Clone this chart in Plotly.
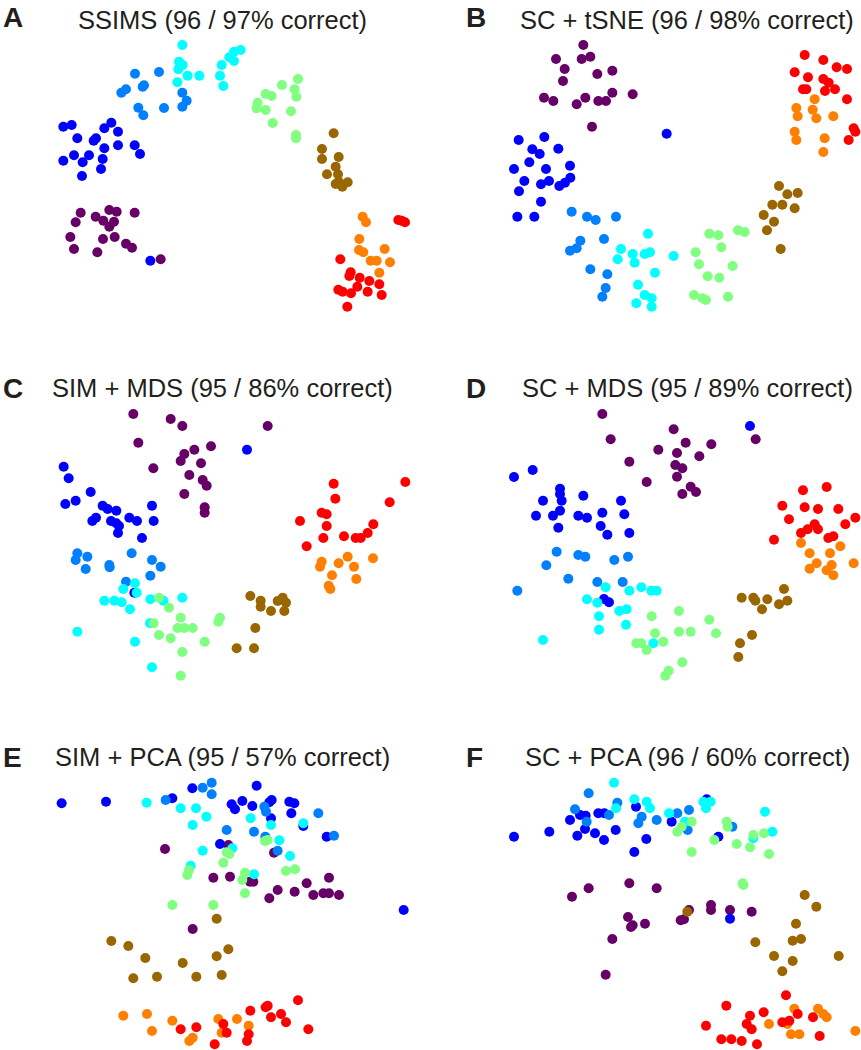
import plotly.graph_objects as go

# Cluster colours
COLORS = {
    "purple": "#660066", "blue": "#0000FF", "medblue": "#0080FF", "cyan": "#00FFFF",
    "green": "#80FF80", "brown": "#996600", "orange": "#FF8000", "red": "#FF0000",
}
ORDER = ["purple", "blue", "medblue", "cyan", "green", "brown", "orange", "red"]

# Embedding coordinates per panel (arbitrary units, y grows downward)
PANEL_A = {
    "cyan": [(547,45),(537,95),(548,105),(535,118),(563,137),(598,137),(532,157),(665,105),(688,82),(702,65),(722,60),(702,93),(660,137),(670,168)],
    "medblue": [(405,131),(477,126),(432,166),(428,170),(378,178),(364,188),(547,188),(560,212),(547,230),(415,233),(430,256),(492,234)],
    "blue": [(190,290),(215,285),(334,278),(313,295),(354,305),(232,325),(288,325),(281,332),(313,355),(354,346),(404,346),(420,372),(222,376),(267,376),(190,392),(248,397),(308,387),(303,417),(246,438),(451,692)],
    "purple": [(242,548),(227,577),(287,560),(328,540),(350,545),(404,548),(310,572),(342,575),(328,590),(211,621),(222,657),(309,627),(344,621),(378,641),(396,653),(292,667),(482,688)],
    "green": [(773,218),(770,235),(797,192),(815,198),(846,165),(894,147),(884,178),(889,200),(797,240),(873,244),(818,279),(888,315),(888,325)],
    "brown": [(1001,310),(966,357),(966,387),(1016,381),(1007,410),(981,433),(1014,433),(1007,462),(1027,470),(1043,457),(1016,455)],
    "orange": [(1088,560),(1098,577),(1078,627),(1077,660),(1090,667),(1154,657),(1112,692),(1130,692),(1170,697),(1138,728)],
    "red": [(1195,570),(1215,577),(1205,572),(1021,688),(1052,727),(1048,738),(1079,743),(1108,753),(1138,763),(1072,770),(1015,779),(1028,785),(1053,790),(1103,785),(1145,795),(1042,830)],
}
PANEL_B = {
    "purple": [(460,45),(378,87),(455,87),(481,80),(404,117),(502,132),(547,122),(399,153),(342,203),(370,213),(440,223),(466,203),(505,213),(528,213),(547,188),(608,193),(486,290)],
    "blue": [(710,311),(266,330),(343,321),(307,358),(329,372),(385,356),(298,397),(348,417),(252,417),(420,407),(283,453),(333,463),(357,453),(388,468),(405,458),(421,443),(267,484),(333,515),(262,560),(313,560)],
    "medblue": [(425,545),(471,560),(497,570),(558,560),(451,632),(440,655),(420,662),(522,627),(481,718),(532,733),(527,774),(517,800)],
    "cyan": [(654,611),(573,657),(563,688),(608,672),(614,698),(644,672),(660,667),(731,678),(675,728),(624,764),(644,795),(665,805),(619,820),(665,830)],
    "green": [(838,611),(865,616),(924,601),(944,606),(874,652),(797,667),(807,703),(908,708),(833,739),(868,743),(792,795),(817,805),(828,810),(894,800)],
    "brown": [(1047,468),(1072,493),(1103,489),(1027,524),(1057,524),(1094,535),(1001,555),(1032,575),(1011,601),(1052,657)],
    "red": [(1124,75),(1180,90),(1220,112),(1251,117),(1094,127),(1134,142),(1180,147),(1196,158),(1119,178),(1129,178),(1185,183),(1215,178),(1251,208),(1271,295),(1276,305),(1256,330)],
    "orange": [(1154,208),(1099,234),(1148,239),(1103,259),(1159,265),(1210,259),(1094,305),(1099,330),(1184,325),(1180,366)],
}
PANEL_C = {
    "purple": [(400,132),(512,147),(547,168),(415,218),(460,295),(633,229),(583,239),(553,252),(542,273),(603,280),(568,315),(608,330),(620,347),(553,372),(614,412),(614,428),(803,168)],
    "blue": [(741,239),(191,290),(206,325),(272,366),(227,392),(196,402),(308,407),(323,417),(349,422),(288,443),(277,453),(333,453),(349,460),(357,468),(388,443),(411,453),(456,407),(461,453),(354,489),(426,504),(403,668)],
    "medblue": [(232,550),(227,570),(262,560),(257,597),(328,585),(329,592),(395,550),(456,570),(482,590),(451,617),(378,635)],
    "cyan": [(405,640),(370,657),(410,668),(313,692),(343,692),(365,697),(390,718),(451,688),(547,683),(490,692),(450,760),(232,785),(405,815),(456,892)],
    "green": [(477,683),(507,713),(542,743),(461,760),(533,774),(553,774),(578,774),(660,743),(655,755),(477,795),(512,805),(614,815),(547,846),(542,917)],
    "brown": [(751,678),(782,692),(782,710),(833,693),(848,683),(858,698),(813,723),(853,723),(766,774),(710,835),(762,835)],
    "red": [(1001,341),(1216,336),(1006,386),(1169,397),(965,428),(980,433),(900,453),(980,468),(1120,463),(1103,489),(970,504),(1032,499),(1067,504),(1082,504),(920,529)],
    "orange": [(965,575),(960,590),(1016,580),(1043,560),(1119,565),(1062,590),(996,616),(1069,627),(986,647),(991,657)],
}
PANEL_D = {
    "purple": [(517,132),(542,208),(731,178),(767,218),(844,223),(685,239),(741,249),(808,259),(598,275),(736,285),(757,295),(741,320),(650,336),(782,350),(798,366),(757,372),(977,208)],
    "blue": [(960,168),(252,321),(308,300),(390,356),(390,372),(395,392),(339,392),(460,377),(390,422),(369,437),(318,437),(445,437),(471,443),(517,428),(573,392),(583,433),(385,473),(512,468),(532,494),(598,489),(537,697),(522,687)],
    "medblue": [(380,545),(445,555),(466,560),(553,570),(594,560),(349,586),(415,626),(502,636),(578,636),(262,662)],
    "cyan": [(527,652),(598,662),(634,652),(664,662),(680,662),(471,688),(502,698),(568,723),(590,718),(507,739),(588,764),(507,779),(339,810),(670,820)],
    "green": [(747,723),(665,739),(838,749),(675,790),(747,785),(782,785),(858,790),(619,820),(634,820),(700,815),(650,840),(757,877),(716,902),(706,917)],
    "brown": [(1062,657),(935,683),(970,683),(976,692),(1012,688),(996,718),(1047,703),(1072,692),(966,795),(930,820),(925,861)],
    "red": [(1119,361),(1190,351),(1057,407),(1124,412),(1164,417),(1225,417),(1077,448),(1276,443),(1154,463),(1133,478),(1164,478),(1113,489),(1246,463),(1195,504),(1210,499),(1032,509)],
    "orange": [(1113,519),(1231,529),(1139,550),(1200,550),(1160,580),(1139,596),(1205,585),(1190,601),(1210,616),(1271,580)],
}
PANEL_E = {
    "purple": [(685,375),(495,387),(822,398),(640,473),(690,470),(750,485),(760,485),(833,510),(808,535),(884,515),(920,490),(987,473),(940,525),(970,520),(987,520),(1017,525),(578,627)],
    "green": [(795,363),(803,360),(680,397),(688,402),(670,428),(567,450),(562,465),(858,453),(885,448),(735,458),(727,480),(735,520),(517,555),(640,555)],
    "brown": [(650,596),(334,663),(385,678),(436,714),(548,729),(650,709),(685,688),(400,775),(471,770),(589,770),(665,765)],
    "orange": [(370,887),(441,882),(456,933),(517,902),(568,963),(578,953),(655,897),(665,938),(711,897),(746,917)],
    "red": [(542,928),(589,922),(670,912),(680,938),(644,973),(751,872),(797,862),(803,857),(813,892),(843,882),(858,907),(894,841),(925,928),(746,943),(741,963)],
    "blue": [(185,250),(318,245),(517,235),(577,205),(770,197),(695,253),(705,268),(727,243),(757,258),(815,240),(808,247),(868,245),(883,250),(874,280),(813,295),(910,318),(980,350),(660,372),(1211,570)],
    "medblue": [(497,240),(608,203),(635,188),(635,223),(793,260),(798,275),(955,280),(680,330),(762,335),(1002,347),(796,350),(833,392)],
    "cyan": [(440,248),(542,265),(588,265),(619,290),(578,315),(752,295),(813,315),(910,310),(838,361),(697,385),(608,392),(870,408),(572,437),(762,463)],
}
PANEL_F = {
    "purple": [(426,530),(476,505),(598,490),(680,505),(594,591),(603,621),(608,616),(645,611),(547,657),(527,764),(752,601),(762,598),(777,570),(843,555),(843,570),(900,570),(965,575)],
    "brown": [(772,575),(1124,525),(1159,560),(1098,611),(1088,662),(1113,657),(976,667),(1032,708),(1088,723),(1057,754),(1226,708)],
    "red": [(1068,826),(889,857),(960,887),(1001,877),(950,912),(965,928),(828,917),(874,958),(904,958),(935,963),(981,973),(1057,907),(1078,902),(1103,882),(1149,892),(1169,948)],
    "orange": [(1093,866),(1164,866),(1180,882),(1190,892),(1017,912),(1072,912),(1083,943),(1108,943),(1276,933)],
    "blue": [(618,260),(450,285),(467,287),(420,300),(505,280),(523,280),(465,327),(442,347),(495,340),(522,360),(557,330),(252,350),(358,335),(649,357),(613,396),(725,305),(830,238),(865,350),(900,596)],
    "medblue": [(476,220),(562,248),(435,268),(470,305),(537,285),(635,290),(625,310),(680,300),(742,280),(777,270),(773,330),(907,320)],
    "green": [(785,305),(755,320),(742,335),(890,305),(893,320),(853,360),(920,372),(960,382),(970,345),(1002,340),(785,396),(1017,402),(938,490),(940,495)],
    "cyan": [(552,188),(613,238),(650,245),(660,265),(558,265),(717,280),(765,305),(820,245),(842,245),(828,265),(970,355),(1027,335),(1005,275)],
}

LETTERS = ["A", "B", "C", "D", "E", "F"]
TITLES = [
    "SSIMS (96 / 97% correct)",
    "SC + tSNE (96 / 98% correct)",
    "SIM + MDS (95 / 86% correct)",
    "SC + MDS (95 / 89% correct)",
    "SIM + PCA (95 / 57% correct)",
    "SC + PCA (96 / 60% correct)",
]
PANELS = [PANEL_A, PANEL_B, PANEL_C, PANEL_D, PANEL_E, PANEL_F]

W, H = 861, 1050
# panel boxes in page pixels: (left, top, width, height)
BOXES = [(0, 30, 430, 290), (430, 30, 431, 290),
         (0, 370, 430, 330), (430, 370, 431, 330),
         (0, 720, 430, 330), (430, 720, 431, 330)]
LETTER_Y = [17.5, 17.5, 388, 388, 757, 757]
TITLE_Y = [19.5, 19.5, 388, 388, 757, 757]

fig = go.Figure()
for i, (panel, box) in enumerate(zip(PANELS, BOXES)):
    left, top, bw, bh = box
    xa = "x" if i == 0 else f"x{i+1}"
    ya = "y" if i == 0 else f"y{i+1}"
    for key in ORDER:
        pts = panel.get(key, [])
        fig.add_trace(go.Scatter(
            x=[p[0] for p in pts], y=[p[1] for p in pts], mode="markers",
            marker=dict(size=10, color=COLORS[key], line=dict(width=0)),
            xaxis=xa, yaxis=ya, showlegend=False, cliponaxis=False, hoverinfo="skip"))
    axx = "xaxis" if i == 0 else f"xaxis{i+1}"
    axy = "yaxis" if i == 0 else f"yaxis{i+1}"
    fig.layout[axx] = dict(domain=[left / W, (left + bw) / W], range=[0, 3 * bw],
                           visible=False, anchor=ya)
    fig.layout[axy] = dict(domain=[1 - (top + bh) / H, 1 - top / H], range=[3 * bh, 0],
                           visible=False, anchor=xa)
    cx = 223 if left == 0 else 687
    lx = 1 if left == 0 else 464
    fig.add_annotation(x=lx / W, y=1 - LETTER_Y[i] / H, xref="paper", yref="paper",
                       text=f"<b>{LETTERS[i]}</b>", showarrow=False, xanchor="left", yanchor="middle",
                       font=dict(family="Liberation Sans, Arial", size=28, color="#231F20"))
    fig.add_annotation(x=cx / W, y=1 - TITLE_Y[i] / H, xref="paper", yref="paper",
                       text=TITLES[i], showarrow=False, xanchor="center", yanchor="middle",
                       font=dict(family="Liberation Sans, Arial", size=25.5, color="#231F20"))

fig.update_layout(width=W, height=H, margin=dict(l=0, r=0, t=0, b=0),
                  paper_bgcolor="white", plot_bgcolor="white")
fig.write_html("out.html", config={"displayModeBar": False},
               post_script="document.body.style.margin='0';document.body.style.overflow='hidden';")
